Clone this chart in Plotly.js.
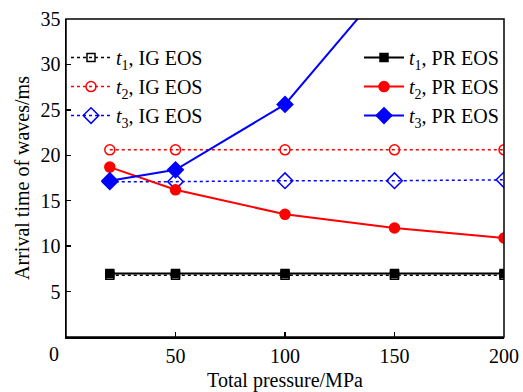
<!DOCTYPE html>
<html>
<head>
<meta charset="utf-8">
<script src="https://cdn.plot.ly/plotly-3.0.1.min.js"></script>
<style>html,body{margin:0;padding:0;background:#fff}#chart{width:523px;height:392px}</style>
</head>
<body>
<div id="chart"></div>
<script>
var pressure = [20, 50, 100, 150, 200];
var t1_IG = [6.8, 6.8, 6.8, 6.8, 6.8];
var t2_IG = [20.6, 20.6, 20.6, 20.6, 20.6];
var t3_IG = [17.1, 17.1, 17.2, 17.2, 17.3];
var t1_PR = [7.0, 7.0, 7.0, 7.0, 7.0];
var t2_PR = [18.7, 16.2, 13.5, 12.0, 10.9];
var t3_PR = [17.2, 18.4, 25.6, 40.0, 54.0];
var names = ['<i>t</i><sub>1</sub>, IG EOS', '<i>t</i><sub>2</sub>, IG EOS', '<i>t</i><sub>3</sub>, IG EOS',
             '<i>t</i><sub>1</sub>, PR EOS', '<i>t</i><sub>2</sub>, PR EOS', '<i>t</i><sub>3</sub>, PR EOS'];
var xTicks = [50, 100, 150, 200];
var yTicks = [5, 10, 15, 20, 25, 30, 35];

function tr(y, name, color, dash, sym, width, size, leg) {
  return {x: pressure, y: y, name: name, mode: 'lines+markers', legend: leg,
    line: {color: color, dash: dash, width: width},
    marker: {symbol: sym, size: size, color: color, line: {color: color, width: 1.5}},
    cliponaxis: true};
}
var data = [
  tr(t1_IG, names[0], '#000000', 'dot', 'square-open', 1.5, 8, 'legend'),
  tr(t2_IG, names[1], '#ff0000', 'dot', 'circle-open', 1.5, 10, 'legend'),
  tr(t3_IG, names[2], '#0000ff', 'dot', 'diamond-open', 1.5, 12, 'legend'),
  tr(t1_PR, names[3], '#000000', 'solid', 'square', 2, 8, 'legend2'),
  tr(t2_PR, names[4], '#ff0000', 'solid', 'circle', 2, 10, 'legend2'),
  tr(t3_PR, names[5], '#0000ff', 'solid', 'diamond', 2, 12, 'legend2')
];
var font = {family: '"Liberation Serif", "Times New Roman", serif', color: '#000', size: 20};
var layout = {
  width: 523, height: 392,
  margin: {l: 66, r: 19, t: 19, b: 55},
  paper_bgcolor: '#fff', plot_bgcolor: '#fff',
  font: font,
  showlegend: true,
  xaxis: {range: [0, 200], tickvals: xTicks, ticktext: xTicks.map(String),
    ticks: 'inside', ticklen: 5, tickwidth: 1.5, tickcolor: '#000',
    showline: true, linecolor: '#000', linewidth: 1.5, showgrid: false, zeroline: false,
    tickfont: {size: 20},
    title: {text: 'Total pressure/MPa', font: {size: 20}, standoff: 7}},
  yaxis: {range: [0, 35], tickvals: yTicks, ticktext: yTicks.map(String),
    ticks: 'inside', ticklen: 5, tickwidth: 1.5, tickcolor: '#000',
    showline: true, linecolor: '#000', linewidth: 1.5, showgrid: false, zeroline: false,
    tickfont: {size: 20},
    title: {text: 'Arrival time of waves/ms', font: {size: 20}, standoff: 5}},
  legend: {x: 0.0, y: 0.94, xanchor: 'left', yanchor: 'top', bgcolor: 'rgba(0,0,0,0)',
    font: {size: 20}, tracegroupgap: 0, itemwidth: 40},
  legend2: {x: 1.0, y: 0.94, xanchor: 'right', yanchor: 'top', bgcolor: 'rgba(0,0,0,0)',
    font: {size: 20}, tracegroupgap: 0, itemwidth: 40},
  shapes: [{type: 'rect', xref: 'paper', yref: 'paper', x0: 0, x1: 1, y0: 0, y1: 1,
    line: {color: '#000', width: 1.5}}],
  annotations: [{text: '0', xref: 'paper', yref: 'paper', x: 0, y: 0, xanchor: 'right', yanchor: 'top',
    xshift: -5, yshift: -4, showarrow: false, font: {size: 20}}]
};
Plotly.newPlot('chart', data, layout, {displayModeBar: false, staticPlot: true});
</script>
</body>
</html>
